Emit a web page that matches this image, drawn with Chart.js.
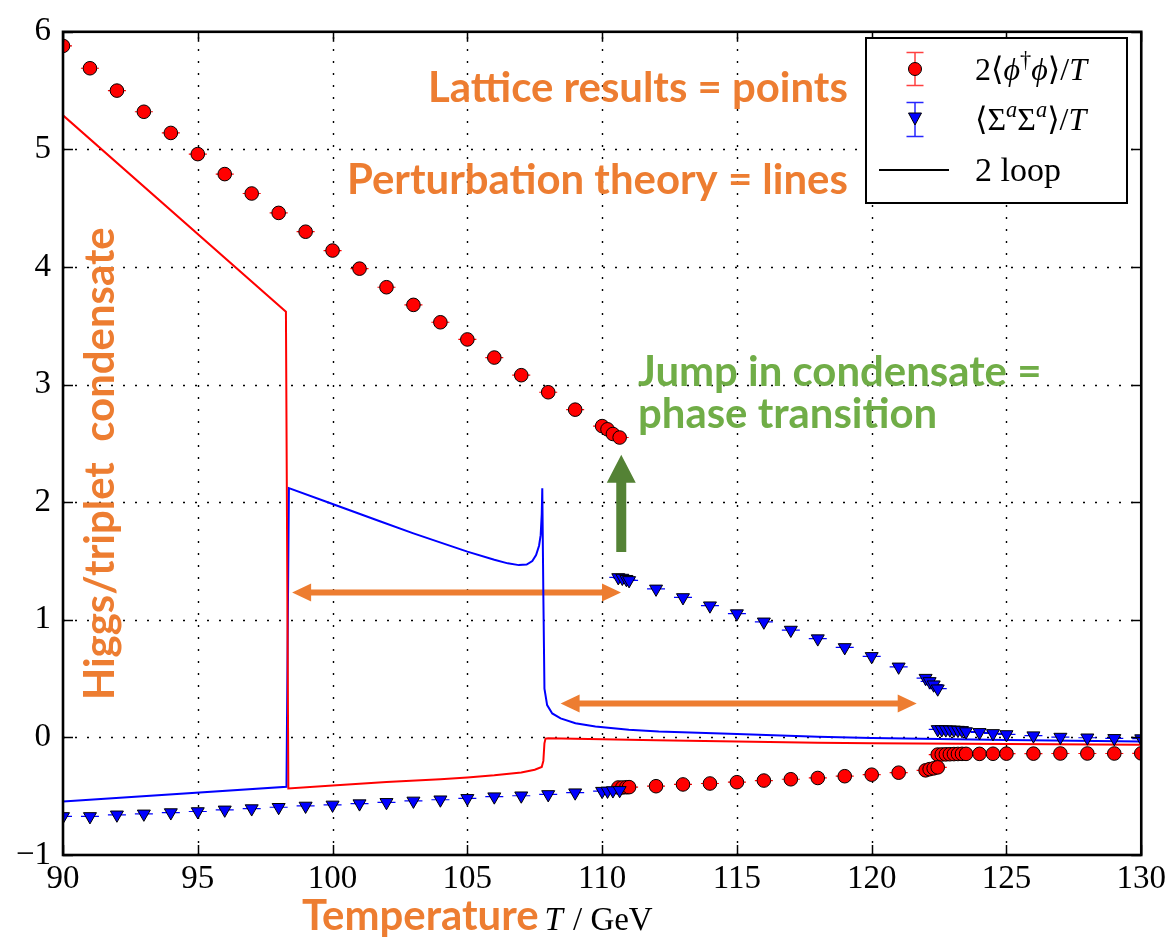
<!DOCTYPE html>
<html>
<head>
<meta charset="utf-8">
<title>Higgs / triplet condensate vs temperature</title>
<script src="https://cdn.jsdelivr.net/npm/chart.js@4.4.1/dist/chart.umd.min.js"></script>
<style>
  html, body { margin: 0; padding: 0; background: #ffffff; }
  #wrap { width: 1171px; height: 942px; position: relative; }
</style>
</head>
<body>
<div id="wrap"><canvas id="c" width="1171" height="942"></canvas></div>
<script>
// ---- lattice results: broken (Higgs) phase ----
const tHiggs   = [90, 91, 92, 93, 94, 95, 96, 97, 98, 99, 100, 101, 102, 103, 104, 105, 106, 107, 108, 109, 110.0, 110.2, 110.4, 110.65];
const phiHiggs = [5.88, 5.69, 5.50, 5.32, 5.14, 4.96, 4.79, 4.625, 4.46, 4.30, 4.14, 3.986, 3.828, 3.678, 3.53, 3.384, 3.23, 3.08, 2.935, 2.787, 2.647, 2.62, 2.58, 2.55];
const sigHiggs = [-0.672, -0.672, -0.658, -0.65, -0.639, -0.63, -0.616, -0.605, -0.594, -0.583, -0.574, -0.563, -0.552, -0.54, -0.53, -0.518, -0.504, -0.496, -0.485, -0.47, -0.457, -0.455, -0.452, -0.45];

// ---- lattice results: triplet phase ----
const tTriplet   = [110.6, 110.75, 110.9, 111.0, 112, 113, 114, 115, 116, 117, 118, 119, 120, 121, 122.0, 122.15, 122.3, 122.45];
const sigTriplet = [1.36, 1.355, 1.345, 1.335, 1.263, 1.19, 1.12, 1.053, 0.983, 0.913, 0.84, 0.765, 0.689, 0.60, 0.504, 0.476, 0.448, 0.414];
const phiTriplet = [-0.426, -0.426, -0.424, -0.423, -0.415, -0.40, -0.392, -0.381, -0.367, -0.356, -0.345, -0.33, -0.317, -0.30, -0.28, -0.27, -0.263, -0.255];

// ---- lattice results: symmetric phase ----
const tSym   = [122.45, 122.6, 122.75, 122.9, 123.05, 123.2, 123.35, 123.5, 124, 124.5, 125, 126, 127, 128, 129, 130];
const phiSym = [-0.146, -0.145, -0.144, -0.143, -0.142, -0.141, -0.14, -0.14, -0.14, -0.139, -0.138, -0.138, -0.137, -0.137, -0.137, -0.136];
const sigSym = [0.068, 0.067, 0.066, 0.065, 0.064, 0.062, 0.06, 0.05, 0.043, 0.034, 0.025, 0.015, 0.003, -0.003, -0.008, -0.01];

// ---- two-loop perturbation theory ----
const tPtPhi = [90, 98.27, 98.36, 100, 102, 104, 105, 106, 107, 107.5, 107.76, 107.82, 107.86, 107.9, 108, 110, 112, 115, 118, 120, 125, 130];
const ptPhi  = [5.29, 3.62, -0.434, -0.41, -0.38, -0.355, -0.34, -0.322, -0.298, -0.275, -0.252, -0.2, -0.05, -0.01, -0.008, -0.015, -0.025, -0.035, -0.045, -0.05, -0.057, -0.062];
const tPtSig = [90, 98.29, 98.38, 100, 101.73, 103, 105, 106, 106.5, 106.91, 107.2, 107.41, 107.55, 107.66, 107.72, 107.76, 107.78, 107.82, 107.86, 107.96, 108.15, 108.46, 109.01, 109.75, 110.99, 112.1, 115, 118, 120, 125, 130];
const ptSig  = [-0.546, -0.42, 2.12, 1.985, 1.84, 1.735, 1.58, 1.51, 1.48, 1.465, 1.47, 1.50, 1.55, 1.63, 1.72, 1.90, 2.118, 1.2, 0.414, 0.275, 0.204, 0.162, 0.12, 0.092, 0.065, 0.05, 0.028, 0.005, -0.006, -0.022, -0.034];

// ---- axis ticks ----
const xTicks = [90, 95, 100, 105, 110, 115, 120, 125, 130];
const yTicks = [-1, 0, 1, 2, 3, 4, 5, 6];

// annotation arrows, in data units
const phaseArrows = [
  { x1: 98.5,   x2: 110.7,  y: 1.233 },
  { x1: 108.46, x2: 121.67, y: 0.288 }
];
const jumpArrow = { x: 110.71, y1: 1.577, y2: 2.403 };

const ORANGE = '#ED7D31';
const GREEN_TXT = '#70AD47';
const GREEN_ARROW = '#548235';
const SERIF = '"Liberation Serif", "DejaVu Serif", serif';
const SANS_BOLD = 'Lato, "Open Sans", sans-serif';

const zip = (xs, ys) => xs.map((x, i) => ({ x: x, y: ys[i] }));

function latticeSet(label, xs, ys, color, style) {
  return {
    label: label,
    data: zip(xs, ys),
    showLine: false,
    pointStyle: style,
    pointRotation: style === 'triangle' ? 180 : 0,
    pointRadius: style === 'triangle' ? 7.5 : 6.8,
    pointHoverRadius: style === 'triangle' ? 7.5 : 6.8,
    pointBackgroundColor: color,
    pointBorderColor: '#000000',
    pointBorderWidth: 1,
    capColor: color,
    clip: 0,
    order: 1
  };
}

function ptSet(label, xs, ys, color) {
  return {
    label: label,
    data: zip(xs, ys),
    showLine: true,
    borderColor: color,
    borderWidth: 2,
    pointRadius: 0,
    pointHoverRadius: 0,
    tension: 0,
    fill: false,
    clip: 0,
    order: 3
  };
}

const datasets = [
  ptSet('phi 2 loop', tPtPhi, ptPhi, '#ff0000'),
  ptSet('sigma 2 loop', tPtSig, ptSig, '#0000ff'),
  latticeSet('sigma Higgs phase', tHiggs, sigHiggs, '#0000ff', 'triangle'),
  latticeSet('sigma triplet phase', tTriplet, sigTriplet, '#0000ff', 'triangle'),
  latticeSet('sigma symmetric phase', tSym, sigSym, '#0000ff', 'triangle'),
  latticeSet('phi Higgs phase', tHiggs, phiHiggs, '#ff0000', 'circle'),
  latticeSet('phi triplet phase', tTriplet, phiTriplet, '#ff0000', 'circle'),
  latticeSet('phi symmetric phase', tSym, phiSym, '#ff0000', 'circle')
];

// dotted grid, caps of the error bars and orange arrows, under the markers
const underlay = {
  id: 'underlay',
  beforeDatasetsDraw(chart) {
    const { ctx, chartArea: a, scales: { x, y } } = chart;
    ctx.save();
    ctx.strokeStyle = '#000';
    ctx.lineWidth = 1.4;
    ctx.setLineDash([2, 10]);
    xTicks.forEach(v => {
      if (v === x.min || v === x.max) return;
      const px = Math.round(x.getPixelForValue(v)) + 0.5;
      ctx.beginPath(); ctx.moveTo(px, a.bottom); ctx.lineTo(px, a.top); ctx.stroke();
    });
    yTicks.forEach(v => {
      if (v === y.min || v === y.max) return;
      const py = Math.round(y.getPixelForValue(v)) + 0.5;
      ctx.beginPath(); ctx.moveTo(a.left, py); ctx.lineTo(a.right, py); ctx.stroke();
    });
    ctx.setLineDash([]);

    // error-bar caps
    ctx.beginPath(); ctx.rect(a.left, a.top, a.right - a.left, a.bottom - a.top); ctx.clip();
    chart.data.datasets.forEach((ds, i) => {
      if (!ds.capColor) return;
      const meta = chart.getDatasetMeta(i);
      ctx.strokeStyle = ds.capColor;
      ctx.lineWidth = 1.2;
      meta.data.forEach(pt => {
        ctx.beginPath(); ctx.moveTo(pt.x - 9, pt.y); ctx.lineTo(pt.x + 9, pt.y); ctx.stroke();
      });
    });

    // double arrows marking the metastable ranges
    ctx.fillStyle = ORANGE;
    phaseArrows.forEach(ar => {
      const x1 = x.getPixelForValue(ar.x1), x2 = x.getPixelForValue(ar.x2), py = y.getPixelForValue(ar.y);
      const hl = 19, hw = 9, sw = 3;
      ctx.beginPath();
      ctx.moveTo(x1, py);
      ctx.lineTo(x1 + hl, py - hw);
      ctx.lineTo(x1 + hl, py - sw);
      ctx.lineTo(x2 - hl, py - sw);
      ctx.lineTo(x2 - hl, py - hw);
      ctx.lineTo(x2, py);
      ctx.lineTo(x2 - hl, py + hw);
      ctx.lineTo(x2 - hl, py + sw);
      ctx.lineTo(x1 + hl, py + sw);
      ctx.lineTo(x1 + hl, py + hw);
      ctx.closePath();
      ctx.fill();
    });
    ctx.restore();
  }
};

function drawRuns(ctx, runs, x, y, size) {
  runs.forEach(r => {
    const s = r.sup ? size * 0.7 : size;
    ctx.font = (r.it ? 'italic ' : '') + s + 'px ' + SERIF;
    ctx.fillText(r.t, x, y - (r.sup ? size * 0.4 : 0));
    x += ctx.measureText(r.t).width + (r.gap || 0);
  });
  return x;
}

function boldSize(ctx, text, width) {
  ctx.font = 'bold 100px ' + SANS_BOLD;
  return 100 * width / ctx.measureText(text).width;
}

// frame, inner ticks, legend, arrows and labels on top
const overlay = {
  id: 'overlay',
  afterDraw(chart) {
    const { ctx, chartArea: a, scales: { x, y } } = chart;
    ctx.save();

    // green jump arrow
    {
      const px = x.getPixelForValue(jumpArrow.x);
      const yb = y.getPixelForValue(jumpArrow.y1), yt = y.getPixelForValue(jumpArrow.y2);
      const hl = 28, hw = 14.5, sw = 5;
      ctx.fillStyle = GREEN_ARROW;
      ctx.beginPath();
      ctx.moveTo(px, yt);
      ctx.lineTo(px + hw, yt + hl);
      ctx.lineTo(px + sw, yt + hl);
      ctx.lineTo(px + sw, yb);
      ctx.lineTo(px - sw, yb);
      ctx.lineTo(px - sw, yt + hl);
      ctx.lineTo(px - hw, yt + hl);
      ctx.closePath();
      ctx.fill();
    }

    // inner tick marks on all four sides
    ctx.strokeStyle = '#000';
    ctx.lineWidth = 1.5;
    const tl = 10;
    xTicks.forEach(v => {
      const px = Math.round(x.getPixelForValue(v)) + 0.5;
      ctx.beginPath(); ctx.moveTo(px, a.bottom); ctx.lineTo(px, a.bottom - tl); ctx.stroke();
      ctx.beginPath(); ctx.moveTo(px, a.top); ctx.lineTo(px, a.top + tl); ctx.stroke();
    });
    yTicks.forEach(v => {
      const py = Math.round(y.getPixelForValue(v)) + 0.5;
      ctx.beginPath(); ctx.moveTo(a.left, py); ctx.lineTo(a.left + tl, py); ctx.stroke();
      ctx.beginPath(); ctx.moveTo(a.right, py); ctx.lineTo(a.right - tl, py); ctx.stroke();
    });

    // plot frame
    ctx.lineWidth = 2.6;
    ctx.strokeRect(a.left, a.top, a.right - a.left, a.bottom - a.top);

    // legend
    const lx = 866, ly = 38, lw = 261, lh = 165;
    ctx.fillStyle = '#fff';
    ctx.fillRect(lx, ly, lw, lh);
    ctx.lineWidth = 2;
    ctx.strokeStyle = '#000';
    ctx.strokeRect(lx, ly, lw, lh);

    const mx = 915;
    // red circle with error bar
    ctx.strokeStyle = 'rgba(255,0,0,0.75)';
    ctx.lineWidth = 1.5;
    ctx.beginPath();
    ctx.moveTo(mx, 52); ctx.lineTo(mx, 86);
    ctx.moveTo(mx - 8.5, 52.5); ctx.lineTo(mx + 8.5, 52.5);
    ctx.moveTo(mx - 8.5, 85.5); ctx.lineTo(mx + 8.5, 85.5);
    ctx.stroke();
    ctx.fillStyle = '#ff0000';
    ctx.strokeStyle = '#000';
    ctx.lineWidth = 1;
    ctx.beginPath(); ctx.arc(mx, 69, 6.5, 0, Math.PI * 2); ctx.fill(); ctx.stroke();
    // blue triangle with error bar
    ctx.strokeStyle = 'rgba(0,0,255,0.85)';
    ctx.lineWidth = 1.5;
    ctx.beginPath();
    ctx.moveTo(mx, 102); ctx.lineTo(mx, 137);
    ctx.moveTo(mx - 8.5, 102.5); ctx.lineTo(mx + 8.5, 102.5);
    ctx.moveTo(mx - 8.5, 136.5); ctx.lineTo(mx + 8.5, 136.5);
    ctx.stroke();
    ctx.fillStyle = '#0000ff';
    ctx.strokeStyle = '#000';
    ctx.lineWidth = 1;
    ctx.beginPath();
    ctx.moveTo(mx - 6.5, 113); ctx.lineTo(mx + 6.5, 113); ctx.lineTo(mx, 125); ctx.closePath();
    ctx.fill(); ctx.stroke();
    // black line
    ctx.strokeStyle = '#000';
    ctx.lineWidth = 2;
    ctx.beginPath(); ctx.moveTo(879, 170); ctx.lineTo(949, 170); ctx.stroke();

    ctx.fillStyle = '#000';
    ctx.textBaseline = 'alphabetic';
    ctx.textAlign = 'left';
    const ls = 32;
    drawRuns(ctx, [
      { t: '2⟨' }, { t: 'ϕ', it: true }, { t: '†', sup: true }, { t: 'ϕ', it: true }, { t: '⟩/' }, { t: 'T', it: true }
    ], 975, 80, ls);
    drawRuns(ctx, [
      { t: '⟨Σ' }, { t: 'a', it: true, sup: true }, { t: 'Σ' }, { t: 'a', it: true, sup: true }, { t: '⟩/' }, { t: 'T', it: true }
    ], 975, 130, ls);
    drawRuns(ctx, [{ t: '2 loop' }], 975, 181, ls + 2);

    // annotations
    const fs = boldSize(ctx, 'Perturbation theory = lines', 501);
    ctx.font = 'bold ' + fs + 'px ' + SANS_BOLD;
    ctx.fillStyle = ORANGE;
    ctx.fillText('Lattice results = points', 428, 102);
    ctx.fillText('Perturbation theory = lines', 347, 194);
    ctx.fillStyle = GREEN_TXT;
    ctx.fillText('Jump in condensate =', 638, 386);
    ctx.fillText('phase transition', 638, 428);

    // axis titles
    ctx.fillStyle = ORANGE;
    ctx.fillText('Temperature', 302, 930);
    let tx = 302 + ctx.measureText('Temperature').width + 6;
    ctx.fillStyle = '#000';
    drawRuns(ctx, [{ t: 'T', it: true, gap: 10 }, { t: '/ GeV' }], tx, 930, 33);

    ctx.save();
    ctx.translate(114, 700);
    ctx.rotate(-Math.PI / 2);
    ctx.font = 'bold ' + fs + 'px ' + SANS_BOLD;
    ctx.fillStyle = ORANGE;
    ctx.fillText('Higgs/triplet  condensate', 0, 0);
    ctx.restore();

    ctx.restore();
  }
};

new Chart(document.getElementById('c'), {
  type: 'scatter',
  data: { datasets: datasets },
  options: {
    responsive: false,
    animation: false,
    devicePixelRatio: 1,
    events: [],
    layout: { padding: { top: 22, right: 28, left: 0, bottom: 0 } },
    plugins: { legend: { display: false }, tooltip: { enabled: false } },
    scales: {
      x: {
        type: 'linear',
        min: 90, max: 130,
        afterBuildTicks: s => { s.ticks = xTicks.map(v => ({ value: v })); },
        afterFit: s => { s.height = 87; },
        grid: { display: false, drawTicks: false },
        border: { display: false },
        ticks: {
          color: '#000',
          padding: 5,
          maxRotation: 0,
          autoSkip: false,
          font: { family: SERIF, size: 33 },
          callback: v => String(v)
        }
      },
      y: {
        type: 'linear',
        min: -1, max: 6,
        afterBuildTicks: s => { s.ticks = yTicks.map(v => ({ value: v })); },
        afterFit: s => { s.width = 63; },
        grid: { display: false, drawTicks: false },
        border: { display: false },
        ticks: {
          color: '#000',
          padding: 12,
          autoSkip: false,
          font: { family: SERIF, size: 33 },
          callback: v => (v < 0 ? '\u2212' + Math.abs(v) : String(v))
        }
      }
    }
  },
  plugins: [underlay, overlay]
});
</script>
</body>
</html>
